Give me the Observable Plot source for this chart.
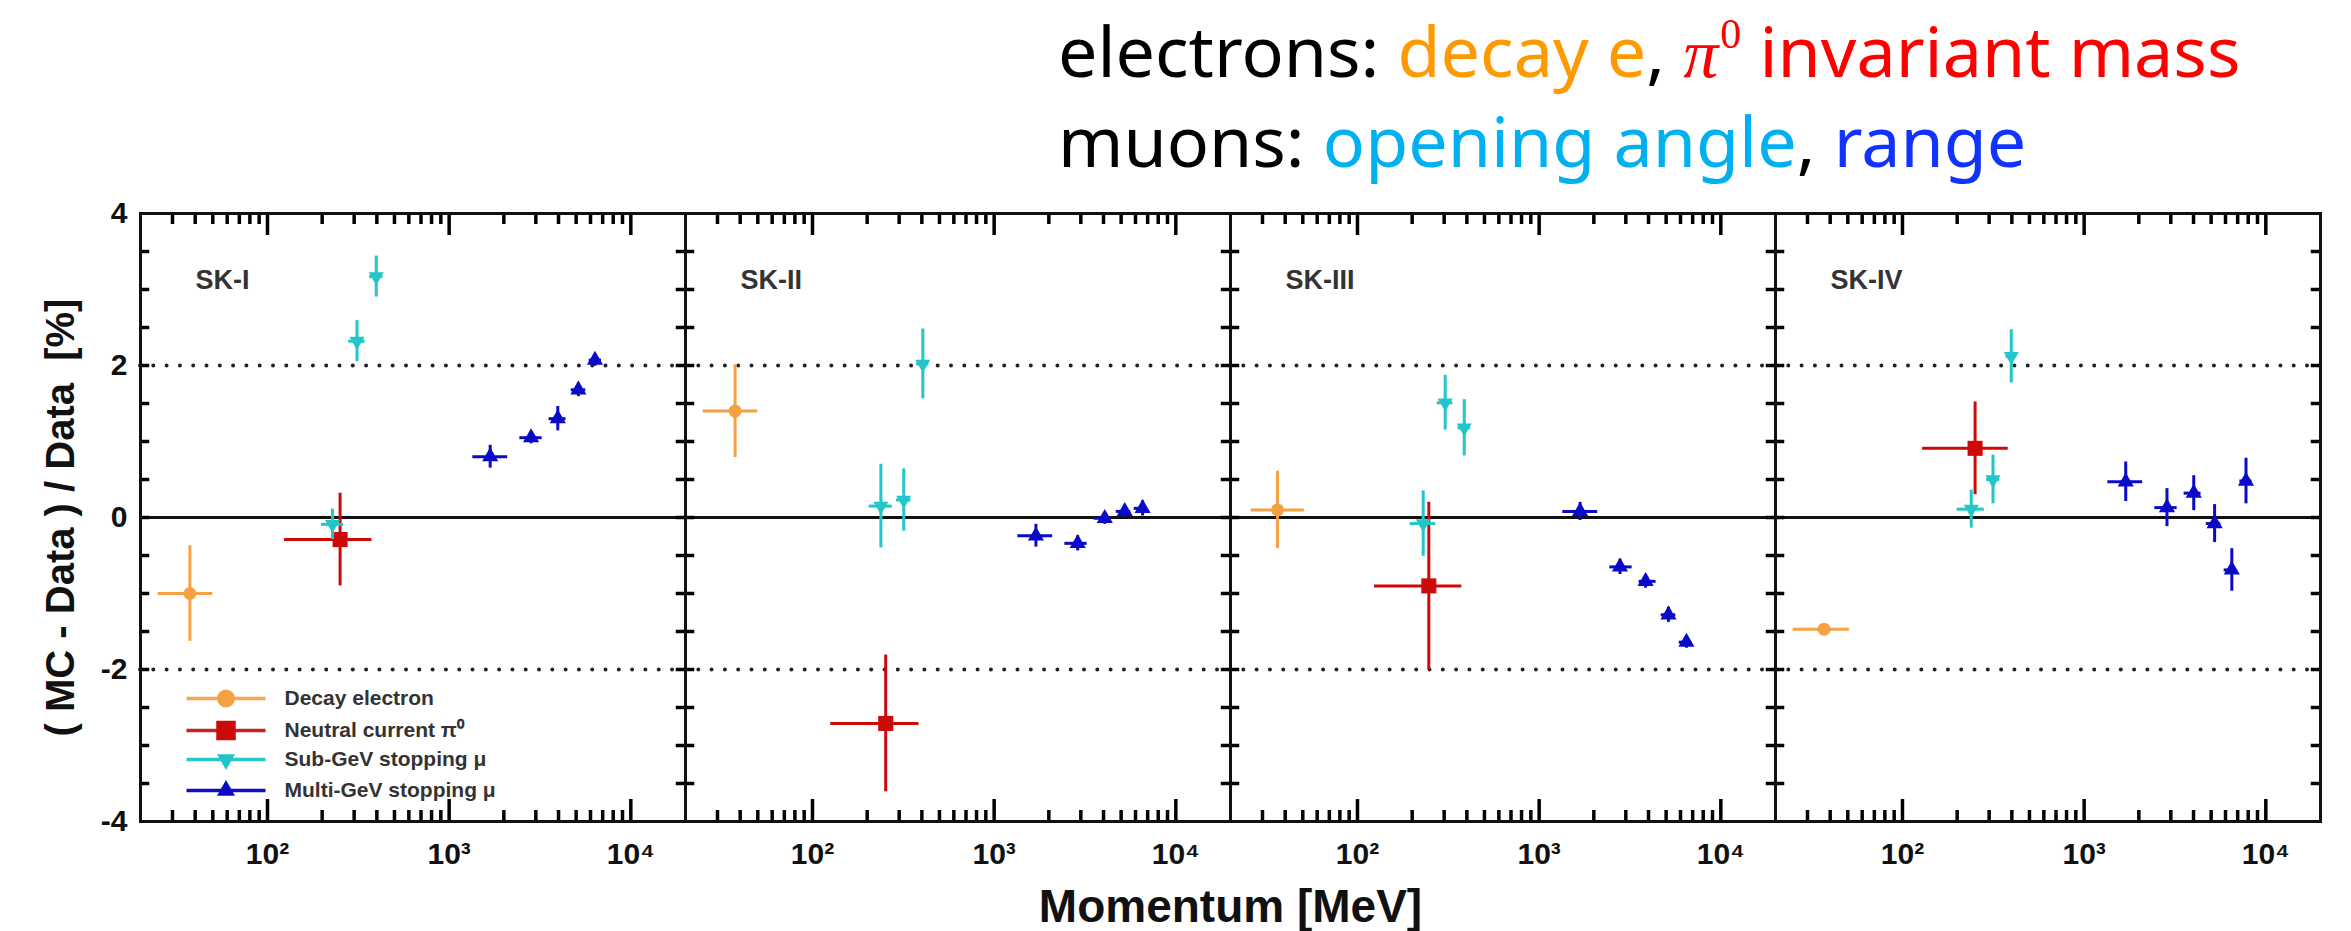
<!DOCTYPE html>
<html>
<head>
<meta charset="utf-8">
<script src="https://cdn.jsdelivr.net/npm/d3@7"></script>
<script src="https://cdn.jsdelivr.net/npm/@observablehq/plot@0.6"></script>
<style>
html, body { margin: 0; padding: 0; background: #fff; }
#title { position: relative; width: 2351px; height: 190px; font-family: "Noto Sans", sans-serif; font-size: 70px; line-height: normal; color: #000; }
#title .line { position: absolute; left: 1058px; white-space: nowrap; }
#title .pi { font-family: "Liberation Serif", serif; font-style: italic; }
#title .sup { font-family: "Liberation Serif", serif; font-size: 0.6em; vertical-align: 0.7em; line-height: 1; margin-left: 2px; }
#chart svg { display: block; }
</style>
</head>
<body>
<div id="title">
  <div class="line" style="top:2px">electrons: <span style="color:#ff9900">decay e</span>, <span style="color:#ff0000"><span class="pi">π</span><span class="sup">0</span> invariant mass</span></div>
  <div class="line" style="top:92px">muons: <span style="color:#00b0f0">opening angle</span>, <span style="color:#1133ff">range</span></div>
</div>
<div id="chart"></div>
<script>
// ---------- data ----------
const panels = ["SK-I", "SK-II", "SK-III", "SK-IV"];

const xMajorTicks = [100, 1000, 10000];
const xMajorLabels = ["10²", "10³", "10⁴"];
const xMinorTicks = [30, 40, 50, 60, 70, 80, 90, 200, 300, 400, 500, 600, 700, 800, 900, 2000, 3000, 4000, 5000, 6000, 7000, 8000, 9000];
const yLabelTicks = [-4, -2, 0, 2, 4];
const yMinorTicks = [-3.5, -3, -2.5, -2, -1.5, -1, -0.5, 0, 0.5, 1, 1.5, 2, 2.5, 3, 3.5];

const legendLabels = ["Decay electron", "Neutral current π⁰", "Sub-GeV stopping μ", "Multi-GeV stopping μ"];

// Decay electron
const decayPanel = ["SK-I", "SK-II", "SK-III", "SK-IV"];
const decayP   = [37.4, 37.5, 36.3, 37.0];
const decayPlo = [25, 25, 26, 25];
const decayPhi = [50, 50, 51, 51];
const decayDev = [-1.00, 1.40, 0.10, -1.47];
const decayErr = [0.63, 0.61, 0.51, 0.06];

// Neutral current pi0
const pi0Panel = ["SK-I", "SK-II", "SK-III", "SK-IV"];
const pi0P   = [251, 253, 247, 251];
const pi0Plo = [124, 126, 124, 129];
const pi0Phi = [376, 386, 375, 382];
const pi0Dev = [-0.29, -2.71, -0.90, 0.91];
const pi0Err = [0.61, 0.90, 1.10, 0.61];

// Sub-GeV stopping mu
const subPanel = ["SK-I", "SK-I", "SK-I", "SK-II", "SK-II", "SK-II", "SK-III", "SK-III", "SK-III", "SK-IV", "SK-IV", "SK-IV"];
const subP   = [228, 311, 397, 238, 318, 405, 230, 304, 387, 239, 315, 397];
const subPlo = [198, 280, 365, 205, 290, 375, 195, 275, 358, 200, 290, 372];
const subPhi = [262, 345, 432, 275, 348, 437, 270, 335, 420, 282, 342, 425];
const subDev = [-0.09, 2.32, 3.17, 0.15, 0.23, 2.02, -0.08, 1.51, 1.18, 0.11, 0.50, 2.12];
const subErr = [0.20, 0.27, 0.27, 0.55, 0.41, 0.46, 0.43, 0.36, 0.37, 0.25, 0.32, 0.35];

// Multi-GeV stopping mu
const mulPanel = ["SK-I", "SK-I", "SK-I", "SK-I", "SK-I",
                  "SK-II", "SK-II", "SK-II", "SK-II", "SK-II",
                  "SK-III", "SK-III", "SK-III", "SK-III", "SK-III",
                  "SK-IV", "SK-IV", "SK-IV", "SK-IV", "SK-IV", "SK-IV"];
const mulP   = [1682, 2825, 3963, 5145, 6350,
                1698, 2884, 4063, 5234, 6563,
                1680, 2786, 3855, 5150, 6470,
                1694, 2857, 4012, 5226, 6500, 7780];
const mulPlo = [1350, 2450, 3550, 4700, 5900,
                1350, 2450, 3550, 4700, 5900,
                1350, 2450, 3550, 4700, 5900,
                1350, 2450, 3550, 4700, 5900, 7200];
const mulPhi = [2100, 3250, 4400, 5650, 6900,
                2100, 3250, 4400, 5650, 6900,
                2100, 3250, 4400, 5650, 6900,
                2100, 3250, 4400, 5650, 6900, 8400];
const mulDev = [0.80, 1.05, 1.30, 1.68, 2.07,
                -0.24, -0.34, -0.01, 0.08, 0.12,
                0.08, -0.65, -0.84, -1.28, -1.64,
                0.47, 0.13, 0.32, -0.08, -0.69, 0.48];
const mulErr = [0.15, 0.08, 0.16, 0.09, 0.08,
                0.15, 0.10, 0.08, 0.08, 0.10,
                0.12, 0.10, 0.09, 0.10, 0.08,
                0.26, 0.25, 0.23, 0.25, 0.28, 0.30];

// ---------- build ----------
function rows(panel, p, lo, hi, dev, err) {
  return panel.map((f, i) => ({f, p: p[i], lo: lo[i], hi: hi[i], dev: dev[i], err: err[i]}));
}
const triDown = {
  draw(ctx, size) {
    const y = Math.sqrt(size / (Math.sqrt(3) * 3));
    ctx.moveTo(0, y * 2);
    ctx.lineTo(-Math.sqrt(3) * y, -y);
    ctx.lineTo(Math.sqrt(3) * y, -y);
    ctx.closePath();
  }
};
const hline = {
  draw(ctx, size) {
    const r = Math.sqrt(size / Math.PI);
    ctx.moveTo(-r, 0);
    ctx.lineTo(r, 0);
  }
};
const series = [
  {data: rows(decayPanel, decayP, decayPlo, decayPhi, decayDev, decayErr), color: "#f4a043", line: "#f4a858", symbol: "circle", r: 6.5, lr: 9},
  {data: rows(pi0Panel, pi0P, pi0Plo, pi0Phi, pi0Dev, pi0Err), color: "#cc0a0a", line: "#c42222", symbol: "square", r: 8.5, lr: 11},
  {data: rows(subPanel, subP, subPlo, subPhi, subDev, subErr), color: "#22c6c8", line: "#2ac6c8", symbol: triDown, r: 5.6, lr: 6.7},
  {data: rows(mulPanel, mulP, mulPlo, mulPhi, mulDev, mulErr), color: "#0a0ac8", line: "#1010c0", symbol: "triangle", r: 6, lr: 6.7}
];

// plot geometry (px)
const W = 2351, H = 741, ML = 138, MR = 30, MT = 23, MB = 110;
const frameH = H - MT - MB;
const facetW = (W - ML - MR) / panels.length;

const marks = [
  Plot.ruleY([2, -2], {stroke: "#222", strokeWidth: 4, strokeDasharray: "0,13.3", strokeLinecap: "round"}),
  Plot.ruleY([0], {stroke: "#111", strokeWidth: 3})
];
for (const s of series) {
  marks.push(
    Plot.ruleY(s.data, {fx: "f", y: "dev", x1: "lo", x2: "hi", stroke: s.color, strokeWidth: 3}),
    Plot.ruleX(s.data, {fx: "f", x: "p", y1: d => d.dev - d.err, y2: d => d.dev + d.err, stroke: s.color, strokeWidth: 3}),
    Plot.dot(s.data, {fx: "f", x: "p", y: "dev", symbol: s.symbol, r: s.r, fill: s.color})
  );
}

// panel labels
marks.push(Plot.text(panels, {fx: d => d, x: null, y: null, text: d => d, frameAnchor: "top-left", textAnchor: "start", lineAnchor: "top", dx: 55, dy: 56, fontSize: 27, fill: "#333"}));

// legend (inside SK-I panel)
const legendDy = [485, 517, 546, 577];
series.forEach((s, i) => {
  marks.push(
    Plot.dot([legendLabels[i]], {fx: () => "SK-I", x: null, y: null, frameAnchor: "top-left", dx: 85.5, dy: legendDy[i], symbol: hline, r: 39.5, stroke: s.line, strokeWidth: 3.5, fill: "none"}),
    Plot.dot([legendLabels[i]], {fx: () => "SK-I", x: null, y: null, frameAnchor: "top-left", dx: 85.5, dy: legendDy[i], symbol: s.symbol, r: s.lr, fill: s.color}),
    Plot.text([legendLabels[i]], {fx: () => "SK-I", x: null, y: null, text: d => d, frameAnchor: "top-left", textAnchor: "start", lineAnchor: "middle", dx: 144, dy: legendDy[i], fontSize: 21, fill: "#333"})
  );
});

// inward ticks on all four sides of every panel
const tickStyle = {stroke: "#000", strokeWidth: 3.5};
marks.push(
  Plot.tickX(xMinorTicks, {x: d => d, insetTop: frameH - 11, ...tickStyle}),
  Plot.tickX(xMajorTicks, {x: d => d, insetTop: frameH - 22, ...tickStyle}),
  Plot.tickX(xMinorTicks, {x: d => d, insetBottom: frameH - 11, ...tickStyle}),
  Plot.tickX(xMajorTicks, {x: d => d, insetBottom: frameH - 22, ...tickStyle}),
  Plot.tickY(yMinorTicks, {y: d => d, insetRight: facetW - 10, ...tickStyle}),
  Plot.tickY(yMinorTicks, {y: d => d, insetLeft: facetW - 10, ...tickStyle})
);

// axes
marks.push(
  Plot.axisX(xMajorTicks, {anchor: "bottom", tickSize: 0, tickPadding: 21, fontSize: 30, tickFormat: d => xMajorLabels[xMajorTicks.indexOf(d)], label: null, facetAnchor: null}),
  Plot.axisX([], {anchor: "bottom", tickSize: 0, label: "Momentum [MeV]", labelArrow: "none", labelAnchor: "center", labelOffset: 100, fontSize: 46}),
  Plot.axisY(yLabelTicks, {anchor: "left", tickSize: 0, tickPadding: 13, fontSize: 30, tickFormat: d => String(d), label: null}),
  Plot.axisY([], {anchor: "left", tickSize: 0, label: "( MC - Data ) / Data  [%]", labelArrow: "none", labelAnchor: "center", labelOffset: 95, fontSize: 40}),
  Plot.frame({stroke: "#111", strokeWidth: 3})
);

const chart = Plot.plot({
  width: W,
  height: H,
  marginLeft: ML,
  marginRight: MR,
  marginTop: MT,
  marginBottom: MB,
  style: {fontFamily: "'Liberation Sans', Arial, sans-serif", fontWeight: "bold", background: "white", color: "#111"},
  fx: {domain: panels, padding: 0, axis: null, label: null},
  x: {type: "log", domain: [20, 20000]},
  y: {domain: [-4, 4]},
  marks
});
document.getElementById("chart").appendChild(chart);
</script>
</body>
</html>
